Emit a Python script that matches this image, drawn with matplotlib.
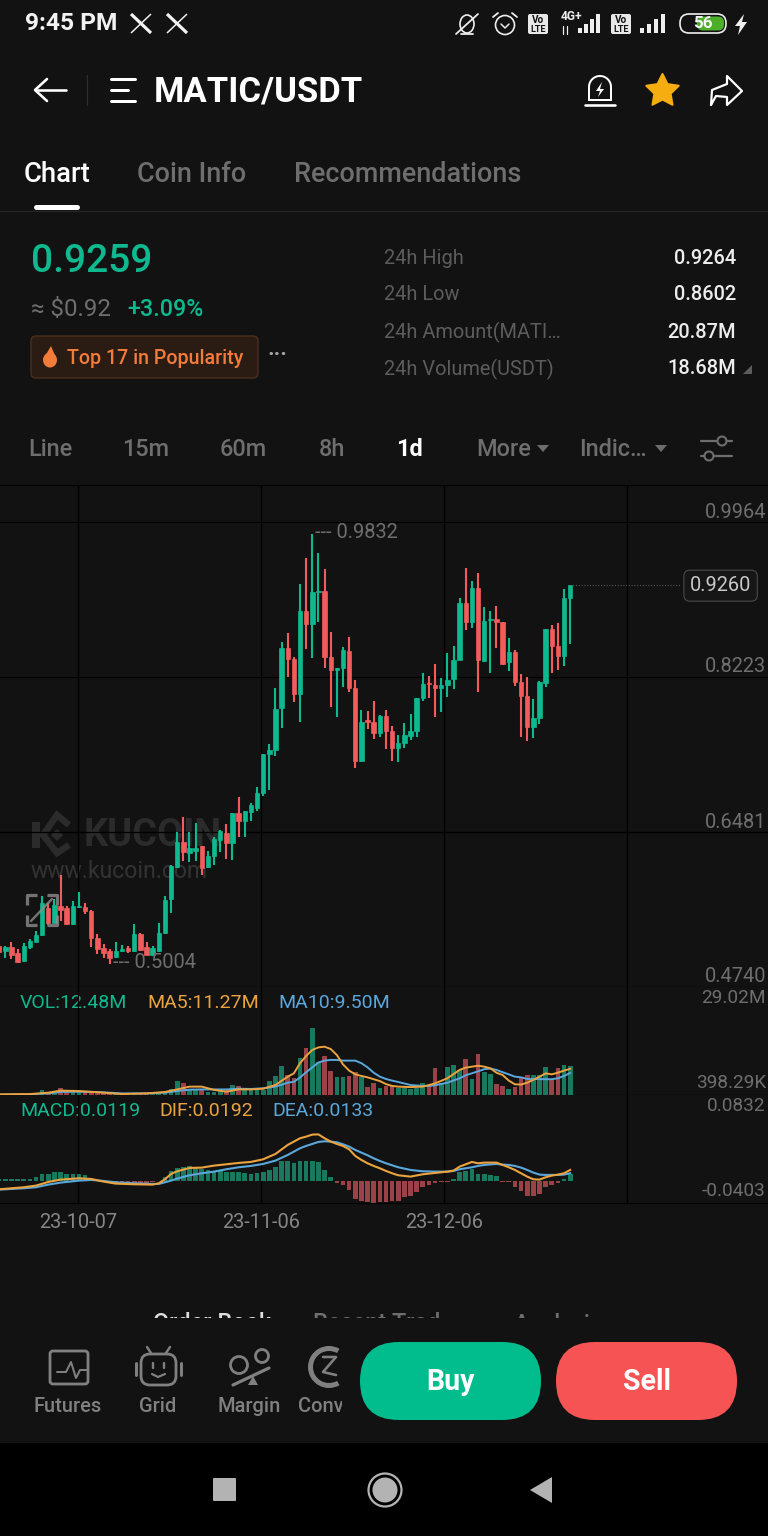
import matplotlib
matplotlib.use('Agg')
import matplotlib.pyplot as plt
from matplotlib.patches import FancyBboxPatch, Circle, Rectangle, Polygon, Wedge, Ellipse
import numpy as np

plt.rcParams['font.family'] = ['Roboto', 'DejaVu Sans']

# daily candles, oldest first
highs = [.5233,.5206,.5251,.5165,.5233,.5278,.5371,.5764,.5682,.5727,.6000,.5652,.5711,.5812,.5682,.5607,.5337,.5225,.5172,.5240,
         .5214,.5206,.5446,.5345,.5244,.5206,.5464,.5764,.6112,.6479,.6654,.6486,.6580,.6329,.6269,.6423,.6505,.6569,.6693,.6879,
         .6722,.6812,.6985,.7359,.7471,.8100,.8616,.8717,.8448,.9268,.9560,.9832,.9616,.9436,.8729,.8325,.8560,.8672,.8190,.7853,
         .7841,.7954,.7797,.7853,.7673,.7572,.7707,.7808,.7987,.8268,.8234,.8369,.8212,.8493,.8571,.9110,.9447,.9301,.9391,.9009,
         .8964,.9020,.8841,.8661,.8526,.8257,.8223,.7976,.8178,.8762,.8807,.8830,.9212,.9260]
opens = [.5206,.5139,.5194,.5120,.5034,.5195,.5244,.5326,.5626,.5464,.5652,.5626,.5446,.5640,.5644,.5599,.5289,.5177,.5150,.5076,
         .5150,.5177,.5146,.5337,.5195,.5101,.5150,.5345,.5727,.6086,.6374,.6243,.6273,.6325,.6086,.6213,.6393,.6475,.6356,.6693,
         .6606,.6711,.6756,.6921,.7355,.7404,.7875,.8549,.8426,.8033,.8964,.8818,.9178,.9189,.8448,.8302,.8325,.8515,.8100,.7280,
         .7741,.7718,.7595,.7785,.7617,.7426,.7482,.7561,.7617,.7987,.8156,.8133,.8100,.8133,.8201,.8414,.9054,.8841,.9223,.8403,
         .8863,.8875,.8841,.8392,.8504,.8167,.8010,.7662,.7763,.8156,.8762,.8571,.8459,.9110]
closes = [.5132,.5194,.5094,.5026,.5206,.5259,.5326,.5689,.5457,.5663,.5607,.5446,.5652,.5652,.5599,.5289,.5165,.5127,.5064,.5146,
          .5165,.5150,.5337,.5157,.5101,.5177,.5345,.5719,.6101,.6374,.6261,.6300,.6300,.6075,.6213,.6401,.6494,.6356,.6693,.6606,
          .6718,.6786,.6917,.7359,.7404,.7864,.8549,.8426,.8033,.8964,.8818,.9178,.9189,.8448,.8302,.8325,.8526,.8100,.7280,.7718,
          .7718,.7595,.7785,.7617,.7426,.7482,.7572,.7617,.7987,.8144,.8144,.8100,.8133,.8190,.8414,.9054,.8841,.9223,.8414,.8852,
          .8875,.8841,.8369,.8504,.8167,.8010,.7662,.7763,.8167,.8762,.8571,.8459,.9110,.9260]
lows = [.5101,.5064,.5052,.5015,.5026,.5165,.5240,.5318,.5438,.5457,.5487,.5438,.5438,.5626,.5562,.5195,.5113,.5064,.5004,.5071,
        .5135,.5127,.5138,.5150,.5094,.5090,.5138,.5337,.5576,.6075,.6160,.6142,.6157,.6000,.6078,.6112,.6261,.6183,.6168,.6430,
        .6423,.6610,.6722,.6887,.6954,.7336,.7651,.8225,.7943,.7718,.8538,.8437,.8841,.8325,.7887,.7774,.8111,.8055,.7201,.7269,
        .7640,.7527,.7550,.7415,.7280,.7269,.7426,.7516,.7550,.7954,.7987,.7774,.7830,.7999,.8089,.8414,.8751,.8774,.8055,.8392,
        .8268,.8549,.8358,.8291,.8122,.7550,.7505,.7538,.7696,.8111,.8268,.8302,.8347,.8594]

# volume in millions
volumes = [.4,.4,.4,.6,.6,.6,.7,2.2,1.1,1.4,2.9,1.9,1.9,1.4,1.1,1.1,1.1,1.0,1.0,.9,
           .7,.7,.7,.7,.6,.7,1.0,1.4,2.6,6.0,5.2,2.6,2.2,2.6,1.1,1.4,2.2,2.6,4.3,4.0,
           2.6,2.0,2.0,2.2,6.0,8.3,12.6,8.6,7.2,16.1,20.4,29.02,14.4,16.8,10.5,7.8,7.8,8.2,10.1,7.6,
           3.3,5.0,3.2,3.9,3.9,2.9,2.9,2.4,2.9,5.0,3.9,11.8,5.0,12.2,12.9,10.8,15.4,6.9,17.7,10.1,
           9.1,4.7,4.0,2.4,3.3,7.9,8.6,8.6,8.6,11.9,6.5,11.5,12.8,12.48]
ma_days = [0,5,8,10,13,16,20,24,27,29,31,33,35,37,39,41,43,45,47,48,49,50,51,52,53,54,55,56,57,58,59,
           60,61,62,63,64,65,67,69,70,71,73,75,76,78,79,80,81,82,83,84,85,86,87,89,90,91,92,93]
ma5 = [.3,.4,1.0,1.9,1.7,1.2,.4,.7,1.3,2.4,3.6,3.6,2.2,1.4,2.4,2.4,2.7,4.3,7.9,9.3,13.7,16.8,19.4,20.5,20.8,19.8,17.2,13.2,10.5,8.9,8.2,
       7.6,6.8,6.0,4.7,3.9,3.6,3.4,3.6,4.3,5.0,7.2,10.8,11.8,12.6,12.2,11.5,9.6,8.6,6.2,4.6,4.5,5.3,6.5,9.3,8.9,9.6,10.5,11.27]
ma10 = [.1,.3,.7,1.3,1.4,1.3,.7,.7,1.0,1.7,2.3,2.4,2.4,2.4,2.7,2.6,2.9,3.6,5.3,5.7,7.5,9.8,11.9,14.0,14.8,15.1,15.1,14.8,14.8,14.8,13.7,
        11.9,9.6,7.9,6.9,6.2,5.6,4.3,3.9,3.9,4.2,5.3,7.2,8.5,10.2,11.1,11.4,10.8,9.8,8.9,7.9,7.6,6.9,6.9,6.8,6.8,7.2,8.2,9.5]

macd_hist = [.003,.003,.0024,.0024,.0024,.003,.006,.012,.012,.015,.015,.012,.012,.012,.0102,.003,.0012,-.0012,-.0018,-.003,
             -.003,-.0036,-.0036,-.0036,-.0036,-.003,-.0012,.006,.0168,.0222,.0252,.0264,.0222,.021,.0198,.018,.018,.015,.0162,.015,
             .0132,.012,.0132,.0162,.0192,.024,.0348,.036,.0312,.036,.036,.036,.0342,.0192,.0072,-.0036,-.0072,-.0168,-.033,-.036,
             -.039,-.0402,-.039,-.0378,-.0372,-.036,-.03,-.0282,-.021,-.012,-.0072,-.0036,-.003,-.003,.003,.015,.0168,.021,.012,.012,
             .0108,.0078,-.0018,-.003,-.0108,-.018,-.027,-.0282,-.024,-.012,-.0072,-.0048,.003,.0119]
macd_days = [0,4,6,8,10,13,15,17,19,22,25,26,27,28,29,31,33,35,37,39,41,43,45,47,48,49,50,51,52,53,54,55,56,57,58,59,
             60,61,62,63,64,65,67,69,71,73,74,75,76,77,78,79,81,82,83,84,85,86,87,88,89,90,91,92,93]
dif = [-.0156,-.012,-.009,-.0024,.0018,.0042,.003,-.0018,-.0054,-.0066,-.0072,-.0048,.0024,.012,.0168,.0228,.0234,.027,.0294,.0318,
       .0336,.0384,.048,.0642,.0702,.0762,.0792,.0828,.0832,.0762,.0702,.066,.0624,.0564,.0444,.0372,.0312,.0264,.0222,.0174,.0132,.0096,
       .0072,.0114,.0138,.0162,.018,.0252,.0294,.0336,.0312,.0324,.0324,.0282,.024,.0192,.0132,.0072,.0024,.0018,.006,.009,.0108,.0132,.0192]
dea = [-.0162,-.0138,-.012,-.0072,-.0036,0,.0012,-.0006,-.003,-.0048,-.006,-.006,-.003,0,.0036,.0096,.0132,.0162,.0204,.024,
       .0264,.03,.036,.0462,.0522,.0582,.0624,.066,.0696,.0708,.0702,.069,.0654,.0612,.0552,.0504,.0456,.0402,.0354,.0312,.0276,.024,
       .0192,.0168,.0162,.0162,.0174,.0204,.0222,.024,.0264,.0282,.03,.0288,.0282,.0264,.0234,.0192,.0144,.0108,.0102,.0102,.0102,.0108,.0133]

price_ticks = [.9964, .8223, .6481, .4740]
price_labels = ['0.9964', '0.8223', '0.6481', '0.4740']
date_ticks = [12.84, 42.64, 72.45, 102.25]
date_labels = ['23-10-07', '23-11-06', '23-12-06', '']

tab_labels = ['Chart', 'Coin Info', 'Recommendations']
stat_names = ['24h High', '24h Low', '24h Amount(MATI…', '24h Volume(USDT)']
stat_values = ['0.9264', '0.8602', '20.87M', '18.68M']

BG = '#121212'
GREEN = '#0fb98f'
RED = '#f25c5c'
DIM_GREEN = '#18795f'
DIM_RED = '#9a4247'
ORANGE = '#eba33f'
BLUE = '#5aa7dc'
GRAY = '#6e6e6e'
GRID = '#000000'
W, H = 768, 1536

fig = plt.figure(figsize=(W / 100, H / 100), dpi=100, facecolor=BG)


def px_text(ax, x, y, s, size, color, **kw):
    # size is font height in screen pixels, centre sits 2px high otherwise
    kw.setdefault('va', 'center')
    return ax.text(x, y + 2, s, fontsize=size * 0.72, color=color, **kw)


def px_line(ax, xs, ys, color='white', lw=2.0, **kw):
    kw.setdefault('solid_capstyle', 'round')
    ax.plot(xs, ys, color=color, lw=lw * 0.72, **kw)


def panel(top, bottom, zorder=2):
    a = fig.add_axes([0, 1 - bottom / H, 1, (bottom - top) / H], zorder=zorder)
    a.patch.set_alpha(0)
    for s in a.spines.values():
        s.set_visible(False)
    a.set_xlim(0.137, 125.22)
    a.set_xticks(date_ticks)
    a.tick_params(length=0, labelbottom=False, labelleft=False)
    a.grid(True, color=GRID, lw=0.9)
    a.set_axisbelow(True)
    return a


# app screen behind the chart
ui = fig.add_axes([0, 0, 1, 1], zorder=0)
ui.set_xlim(0, W)
ui.set_ylim(H, 0)
ui.axis('off')
ui.add_patch(Rectangle((0, 1443), W, 93, color='black', lw=0))

# status bar
px_text(ui, 25, 22, '9:45 PM', 24.5, '#f2f2f2', weight='bold')
for cx in (141, 177):
    px_line(ui, [cx - 10, cx + 10], [14, 33], '#f2f2f2', 3.2, solid_capstyle='butt')
    px_line(ui, [cx + 10, cx - 10], [14, 33], '#f2f2f2', 1.5, solid_capstyle='butt')
# muted bell
ui.add_patch(Ellipse((467, 24), 14, 18, fill=False, ec='#eeeeee', lw=1.2))
px_line(ui, [456, 478], [34, 14], '#eeeeee', 1.8)
px_line(ui, [461, 473], [34, 34], '#eeeeee', 1.8)
# alarm
ui.add_patch(Circle((505, 25), 9.5, fill=False, ec='#eeeeee', lw=1.2))
px_line(ui, [501, 505, 509], [24, 28, 24], '#eeeeee', 1.5)
px_line(ui, [493, 498], [17, 13], '#eeeeee', 1.8)
px_line(ui, [512, 517], [13, 17], '#eeeeee', 1.8)
for bx in (527, 610):
    ui.add_patch(FancyBboxPatch((bx + 1, 14), 20, 20, boxstyle='round,pad=0,rounding_size=2', fc='#e8e8e8', ec='none'))
    px_text(ui, bx + 11, 18, 'Vo', 10, BG, ha='center', weight='bold')
    px_text(ui, bx + 11, 27, 'LTE', 9, BG, ha='center', weight='bold')
px_text(ui, 561, 15, '4G+', 12, '#eeeeee', weight='bold')
px_line(ui, [563, 563], [26, 34], '#eeeeee', 1.2)
px_line(ui, [567, 567], [26, 34], '#eeeeee', 1.2)
for k, bh in enumerate((5, 9, 14, 19)):
    ui.add_patch(Rectangle((578 + k * 6, 33 - bh), 3.5, bh, color='#eeeeee', lw=0))
    ui.add_patch(Rectangle((640 + k * 7, 33 - bh), 3.5, bh, color='#eeeeee', lw=0))
ui.add_patch(FancyBboxPatch((680, 14), 46, 19, boxstyle='round,pad=0,rounding_size=9', fc='none', ec='#eeeeee', lw=1.2))
ui.add_patch(FancyBboxPatch((697, 16.5), 27, 14, boxstyle='round,pad=0,rounding_size=6', fc='#4caf2a', ec='none'))
px_text(ui, 703, 22, '56', 17, '#f4f4f4', ha='center', weight='bold')
ui.add_patch(Polygon([[744, 14], [735, 26], [740, 26], [738, 35], [747, 22], [742, 22]], color='#eeeeee', lw=0))

# title row
px_line(ui, [36, 66], [90, 90], 'white', 2.6)
px_line(ui, [47, 35, 47], [79, 90, 101], 'white', 2.6)
px_line(ui, [87, 87], [75, 105], '#2e2e2e', 1.2)
px_line(ui, [111, 135], [79, 79], 'white', 3)
px_line(ui, [111, 128], [90, 90], 'white', 3)
px_line(ui, [111, 135], [101, 101], 'white', 3)
px_text(ui, 154, 90, 'MATIC/USDT', 34.7, 'white', weight='bold')
px_line(ui, [585, 615], [105, 105], 'white', 2.6)
ax_arc = np.linspace(np.pi, 2 * np.pi, 30)
px_line(ui, np.r_[589, 600 + 11 * np.cos(ax_arc), 611], np.r_[100, 87 + 11 * np.sin(ax_arc), 100], 'white', 2)
px_line(ui, [589, 611], [100, 100], 'white', 2)
ui.add_patch(Polygon([[602, 82], [596, 91], [600, 91], [598, 97], [604, 89], [600, 89]], color='white', lw=0))
star_ang = np.deg2rad(np.arange(-90, 270, 36))
star_r = np.where(np.arange(10) % 2 == 0, 17, 8.5)
star = Polygon(np.c_[662.5 + star_r * np.cos(star_ang), 91 + star_r * np.sin(star_ang)], fc='#f6ad0f', ec='#f6ad0f', lw=1.5, joinstyle='round')
ui.add_patch(star)
px_line(ui, [711, 712, 727, 727, 742, 727, 727, 716, 711], [105, 90, 84, 76, 91, 105, 97, 96, 105], 'white', 2.2)

# tabs
px_text(ui, 24, 172, tab_labels[0], 27.5, 'white', weight='medium')
px_text(ui, 137, 172, tab_labels[1], 27, GRAY, weight='medium')
px_text(ui, 294, 172, tab_labels[2], 27, GRAY, weight='medium')
px_line(ui, [36, 77], [207, 207], 'white', 5)
px_line(ui, [0, W], [211, 211], '#262626', 1.2)

# price block
px_text(ui, 31, 259, '0.9259', 39, GREEN, weight='medium')
px_text(ui, 31, 308, '≈ $0.92', 24, GRAY)
px_text(ui, 127, 308, '+3.09%', 23.3, GREEN, weight='medium')
ui.add_patch(FancyBboxPatch((31, 336), 227, 42, boxstyle='round,pad=0,rounding_size=5', fc='#2a1c13', ec='#4a2f1c', lw=1))
ui.add_patch(Ellipse((50, 360), 14, 15, color='#f47c3a', lw=0))
ui.add_patch(Polygon([[44, 358], [51, 346], [56, 358]], color='#f47c3a', lw=0))
px_text(ui, 67, 356, 'Top 17 in Popularity', 19.7, '#f47c3a', weight='medium')
px_text(ui, 277, 353, '···', 22, '#a8a8a8', ha='center', weight='bold')
for row, (nm, val) in enumerate(zip(stat_names, stat_values)):
    px_text(ui, 384, 256 + row * 37, nm, 20, '#5c5c5c')
    px_text(ui, 736, 256 + row * 37, val, 20, '#ededed', ha='right', weight='medium')
ui.add_patch(Polygon([[743, 374], [752, 374], [752, 365]], color='#5c5c5c', lw=0))

# timeframes
for tx, label in zip((28, 122, 220, 319), ('Line', '15m', '60m', '8h')):
    px_text(ui, tx, 447, label, 23.5, GRAY, weight='medium')
px_text(ui, 396, 447, '1d', 23.5, 'white', weight='bold')
px_text(ui, 476, 447, 'More', 23.5, GRAY, weight='medium')
ui.add_patch(Polygon([[537, 445], [549, 445], [543, 452]], color=GRAY, lw=0))
px_text(ui, 579, 447, 'Indic…', 23.5, GRAY, weight='medium')
ui.add_patch(Polygon([[655, 445], [667, 445], [661, 452]], color=GRAY, lw=0))
px_line(ui, [701, 732], [441, 441], GRAY, 2.2)
px_line(ui, [701, 732], [456, 456], GRAY, 2.2)
ui.add_patch(Circle((722, 441), 4.5, fc=BG, ec=GRAY, lw=1.5, zorder=3))
ui.add_patch(Circle((709, 456), 4.5, fc=BG, ec=GRAY, lw=1.5, zorder=3))

# watermark under the candles
WM = '#2b2b2b'
px_line(ui, [36, 36], [822, 848], WM, 8, solid_capstyle='butt')
px_line(ui, [69, 57, 43, 57, 69], [825, 815, 835, 853, 845], WM, 6.5, solid_joinstyle='miter', solid_capstyle='butt')
ui.add_patch(Polygon([[57, 829], [63, 835], [57, 841], [51, 835]], color=WM, lw=0))
px_text(ui, 84, 833, 'KUCOIN', 38, WM, weight='bold')
px_text(ui, 31, 870, 'www.kucoin.com', 23, '#333333')

# bottom bar
for bx, label, col in ((153, 'Order Book', '#dddddd'), (313, 'Recent Trad', GRAY), (514, 'Analysis', GRAY)):
    px_text(ui, bx, 1322, label, 23.5, col, weight='medium')
ui.add_patch(Rectangle((0, 1318), W, 125, color=BG, lw=0, zorder=3))
ICON = '#808080'
for tx, label in ((68, 'Futures'), (158, 'Grid'), (249, 'Margin')):
    px_text(ui, tx, 1404, label, 20, ICON, ha='center', weight='medium', zorder=4)
px_text(ui, 298, 1404, 'Conv', 20, ICON, weight='medium', zorder=4)
ui.add_patch(FancyBboxPatch((50, 1351), 38, 33, boxstyle='round,pad=0,rounding_size=3', fc='none', ec=ICON, lw=2, zorder=4))
px_line(ui, [57, 66, 71, 76, 80, 88], [1372, 1372, 1362, 1378, 1370, 1370], ICON, 2, zorder=5)
ui.add_patch(FancyBboxPatch((141, 1354), 35, 31, boxstyle='round,pad=0,rounding_size=9', fc='none', ec=ICON, lw=2, zorder=4))
px_line(ui, [151, 147], [1353, 1347], ICON, 2.4, zorder=5)
px_line(ui, [166, 170], [1353, 1347], ICON, 2.4, zorder=5)
px_line(ui, [136, 136], [1363, 1375], ICON, 3, zorder=5)
px_line(ui, [181, 181], [1363, 1375], ICON, 3, zorder=5)
px_line(ui, [153, 153], [1363, 1368], ICON, 2.4, zorder=5)
px_line(ui, [164, 164], [1363, 1368], ICON, 2.4, zorder=5)
px_line(ui, [152, 158, 165], [1374, 1377, 1374], ICON, 2.2, zorder=5)
ui.add_patch(Circle((239, 1365), 8.5, fc='none', ec=ICON, lw=2, zorder=4))
ui.add_patch(Circle((262, 1356), 6.5, fc='none', ec=ICON, lw=2, zorder=4))
px_line(ui, [233, 269], [1385, 1368], ICON, 3.2, zorder=5)
ui.add_patch(Polygon([[253, 1376], [248, 1385], [258, 1385]], color=ICON, lw=0, zorder=5))
ui.add_patch(Wedge((329, 1367), 21, 60, 300, width=5, fc=ICON, ec='none', zorder=4))
px_line(ui, [323, 336, 323, 336], [1357, 1357, 1372, 1375], ICON, 2.6, zorder=5)
# the scrolled row is cut off before the buy button
ui.add_patch(Rectangle((342, 1340), 20, 80, color=BG, lw=0, zorder=5.5))
for bx, label, col in ((360, 'Buy', '#01bc8d'), (556, 'Sell', '#f65454')):
    ui.add_patch(FancyBboxPatch((bx, 1342), 181, 78, boxstyle='round,pad=0,rounding_size=39', fc=col, ec='none', zorder=6))
    px_text(ui, bx + 90.5, 1380, label, 28.5, 'white', ha='center', weight='bold', zorder=7)

# navigation buttons
NAV = '#b3b3b3'
ui.add_patch(FancyBboxPatch((213, 1478), 23, 23, boxstyle='round,pad=0,rounding_size=1', fc=NAV, ec='none'))
ui.add_patch(Circle((385, 1490), 16.5, fc='none', ec=NAV, lw=1.6))
ui.add_patch(Circle((385, 1490), 12.5, fc=NAV, ec='none'))
ui.add_patch(Polygon([[552, 1477], [552, 1503], [530, 1490]], fc=NAV, ec='none'))

# price panel
days = np.arange(len(closes))
o = np.array(opens)
c = np.array(closes)
colors = [GREEN if ci >= oi else RED for oi, ci in zip(o, c)]
price_ax = panel(485, 987)
price_ax.set_ylim(.4740, 1.0380)
price_ax.set_yticks(price_ticks)
price_ax.vlines(days, lows, highs, colors=colors, lw=1.5)
price_ax.bar(days, np.abs(c - o), bottom=np.minimum(o, c), width=.72, color=colors, lw=0.5, edgecolor=colors)
for val, lab in zip(price_ticks, price_labels):
    price_ax.annotate(lab, xy=(1, val), xycoords=('axes fraction', 'data'), xytext=(-2, 10),
                      textcoords='offset pixels', ha='right', va='center', fontsize=20 * 0.72, color=GRAY)
price_ax.annotate('--- 0.9832', xy=(days[51], highs[51]), xytext=(3, 1), textcoords='offset pixels',
                  ha='left', va='center', fontsize=20 * 0.72, color=GRAY)
price_ax.annotate('--- 0.5004', xy=(days[18], lows[18]), xytext=(3, 1), textcoords='offset pixels',
                  ha='left', va='center', fontsize=20 * 0.72, color=GRAY)
price_ax.plot([days[-1], 111.05], [closes[-1], closes[-1]], color='#555555', lw=0.8, ls=(0, (1, 1.5)))
price_ax.annotate('0.9260', xy=(112.5, closes[-1]), xytext=(0, -1), textcoords='offset pixels', ha='left', va='center',
                  fontsize=20 * 0.72, color='#c8c8c8',
                  bbox=dict(boxstyle='round,pad=0.3,rounding_size=0.3', fc='#161616', ec='#4a4a4a', lw=0.8))

# volume panel
vol_ax = panel(987, 1095)
vol_ax.set_ylim(0, 46.5)
vol_ax.set_yticks([0])
vol_colors = [DIM_GREEN if col == GREEN else DIM_RED for col in colors]
vol_ax.bar(days, volumes, width=.76, color=vol_colors, lw=0)
vol_ax.plot(ma_days, ma10, color=BLUE, lw=1.4)
vol_ax.plot(ma_days, ma5, color=ORANGE, lw=1.4)
for tx, s, col in ((20, 'VOL:12.48M', GREEN), (147, 'MA5:11.27M', ORANGE), (278, 'MA10:9.50M', BLUE)):
    px_text(ui, tx, 1001, s, 19.5, col, zorder=8)
px_text(ui, 766, 996, '29.02M', 19, GRAY, ha='right')
px_text(ui, 766, 1081, '398.29K', 19, GRAY, ha='right')

# macd panel
macd_ax = panel(1095, 1203)
macd_ax.set_ylim(-.0403, .1541)
macd_ax.set_yticks([])
macd_ax.bar(days, macd_hist, width=.76, color=[DIM_GREEN if v >= 0 else DIM_RED for v in macd_hist], lw=0)
macd_ax.plot(macd_days, dea, color=BLUE, lw=1.5)
macd_ax.plot(macd_days, dif, color=ORANGE, lw=1.5)
macd_ax.set_xticklabels(date_labels)
macd_ax.tick_params(labelbottom=True, labelsize=20 * 0.72, labelcolor='#868686', pad=7)
macd_ax.spines['bottom'].set_visible(True)
macd_ax.spines['bottom'].set_color(GRID)
for tx, s, col in ((20, 'MACD:0.0119', GREEN), (159, 'DIF:0.0192', ORANGE), (272, 'DEA:0.0133', BLUE)):
    px_text(ui, tx, 1109, s, 19.5, col, zorder=8)
px_text(ui, 766, 1104, '0.0832', 19, GRAY, ha='right')
px_text(ui, 766, 1189, '-0.0403', 19, GRAY, ha='right')

# top edge of chart and expand button
px_line(ui, [0, W], [485, 485], GRID, 1.2)
overlay = fig.add_axes([0, 0, 1, 1], zorder=5)
overlay.set_xlim(0, W)
overlay.set_ylim(H, 0)
overlay.axis('off')
EXP = '#8c8c8c'
for xs, ys in (([27, 27, 37], [905, 895, 895]), ([47, 57, 57], [895, 895, 905]),
               ([27, 27, 37], [915, 925, 925]), ([47, 57, 57], [925, 925, 915])):
    px_line(overlay, xs, ys, EXP, 3.2, alpha=.8, solid_capstyle='butt')
px_line(overlay, [31, 52], [921, 899], EXP, 2.4, alpha=.8)

fig.savefig('out.png', dpi=100, facecolor=BG)
